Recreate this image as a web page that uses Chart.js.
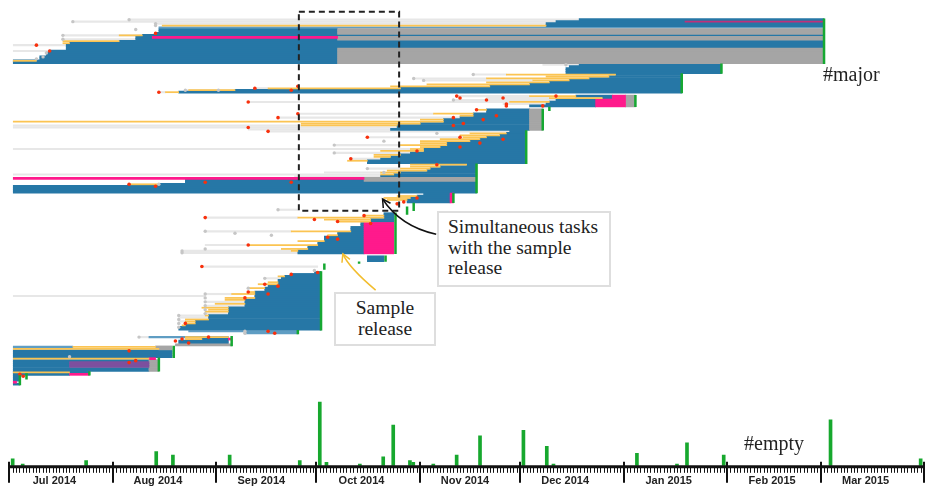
<!DOCTYPE html>
<html>
<head>
<meta charset="utf-8">
<script src="https://cdn.jsdelivr.net/npm/chart.js@4.4.1/dist/chart.umd.min.js"></script>
<style>
  body { margin: 0; background: #fff; }
  #wrap { position: relative; width: 925px; height: 489px; overflow: hidden; }
  canvas { position: absolute; left: 0; }
  .tag { position: absolute; font-family: 'Liberation Serif', serif; font-size: 20px; line-height: 24px; color: #222; }
  .note { position: absolute; box-sizing: border-box; border: 2px solid #dedede; background: #fff;
          font-family: 'Liberation Serif', serif; font-size: 19.5px; line-height: 20.5px; color: #222; }
</style>
</head>
<body>
<div id="wrap">
  <canvas id="tasks" width="925" height="395" style="top:0"></canvas>
  <canvas id="empty" width="925" height="94" style="top:395px"></canvas>
  <div class="tag" style="left:823px;top:62px">#major</div>
  <div class="tag" style="left:744px;top:431px">#empty</div>
  <div class="note" style="left:437px;top:211px;width:174px;height:76px;padding:4px 0 0 9px">Simultaneous tasks<br>with the sample<br>release</div>
  <div class="note" style="left:334px;top:292px;width:102px;height:54px;padding-top:4px;text-align:center">Sample<br>release</div>
</div>
<script>
// days are counted from 1 Jul 2014, rows are task numbers (top to bottom)
const monthStarts = [0, 31, 62, 92, 123, 153, 184, 215, 243, 274];
const monthLabels = ['Jul 2014', 'Aug 2014', 'Sep 2014', 'Oct 2014', 'Nov 2014', 'Dec 2014', 'Jan 2015', 'Feb 2015', 'Mar 2015'];

// [row, from, to]
const waitSpans = [
  [8,35,171],[9,18,164],[10,43,161],[16,15,39],[18,15,37],[21,0,16],[24,0,11],
  [31,160,171],[36,139,149],[38,121,143],[39,124,157],[43,73,77],[45,44,46],[44,52,67],
  [47,134,156],[48,143,162],[49,133,164],[51,148,161],[50,71,150],
  [56,86,127],[58,80,135],[62,0,87],[63,0,116],[64,71,114],
  [65,77,150],[68,107,136],[72,97,117],[74,0,120],[76,97,120],[79,102,111],
  [84,107,117],[86,94,111],[87,0,111],[88,85,111],
  [105,80,86],[109,58,86],[116,58,84],[123,58,71],[126,51,84],[127,51,86],
  [134,57,92],[140,76,81],[148,58,66],[149,0,58],[152,58,70],[154,58,70],[158,58,65],
  [159,50,58],[160,50,59],[162,50,52],[170,38,41]
];

const workSpans = [
  [8,171,245],[9,164,245],[10,161,245],[11,161,245],[13,44,98],[14,44,98],[15,43,98],[16,39,245],
  [17,37,42],[18,37,98],[19,32,245],[20,17,245],[21,16,245],[22,16,245],[23,16,98],[24,11,98],
  [25,10,98],[26,10,98],[27,8,98],[28,8,98],[29,0,98],[30,0,98],
  [31,171,214],[32,168,214],[33,167,214],[34,167,214],[35,167,214],
  [36,182,202],[37,180,202],[38,174,202],[39,168,202],[40,162,202],[41,156,202],[42,144,202],
  [43,117,202],[44,67,202],[45,50,202],
  [47,170,181],[48,178,181],[49,164,176],[50,162,176],[51,161,176],[52,156,176],
  [54,143,156],[55,143,156],[56,139,156],[57,139,156],[58,135,156],[59,130,156],[60,130,156],
  [61,123,156],[62,116,156],[63,116,156],[64,114,156],
  [65,150,155],[66,149,155],[67,147,155],[68,143,155],[69,141,155],[70,138,155],[71,131,155],
  [72,131,155],[73,129,155],[74,124,155],[75,124,155],[76,120,155],[77,117,155],[78,114,155],
  [79,111,155],[80,107,155],[81,107,155],
  [82,137,140],[83,129,140],[84,126,140],[85,125,140],[86,117,140],[87,115,140],[88,111,140],
  [90,52,106],[91,52,140],[92,44,140],[93,0,140],[94,0,140],[95,0,140],[96,0,140],
  [97,124,132],[98,122,132],[99,120,132],[100,119,132],[101,119,132],
  [107,112,115],[108,112,115],[109,112,115],[110,108,115],[111,108,115],[112,105,106],[113,105,106],
  [114,102,106],[115,102,106],[116,102,106],[117,98,106],[118,98,106],[119,94,106],[120,94,106],
  [121,94,106],[122,92,106],[123,92,106],[124,89,106],[125,89,106],[126,86,106],[127,86,106],
  [129,107,112],[130,107,112],[131,107,112],
  [137,91,93],[138,84,93],[139,82,93],[140,81,93],[141,80,93],[142,80,93],[143,80,93],[144,77,93],
  [145,76,93],[146,76,93],[147,73,93],[148,73,93],[149,73,93],[150,73,93],[151,70,93],[152,70,93],
  [153,70,93],[154,70,93],[155,65,93],[156,65,93],[157,65,93],[158,65,93],[159,59,93],[160,59,93],
  [161,59,93],[162,55,93],[163,55,93],[164,52,93],[165,50,93],[166,50,93],
  [171,57,65],[172,50,65],[173,50,65],
  [177,0,48],[178,0,48],[179,0,48],[180,0,48],
  [182,0,41],[183,0,17],[184,0,17],[185,0,17],[186,0,41],[187,0,41],
  [188,0,23],[189,0,17],
  [190,0,2],[191,0,2],[192,0,2],[194,0,2]
];

const lightWorkSpans = [[12,44,245],[167,53,86],[168,70,86],[170,41,65],[175,0,18]];

const holdSpans = [
  [13,98,245],[14,98,245],[15,98,245],[17,98,245],[18,98,245],[23,98,245],[24,98,245],
  [25,98,245],[26,98,245],[27,98,245],[28,98,245],[29,98,245],[30,98,245],
  [47,185,188],[48,185,188],[49,185,188],[50,185,188],[51,185,188],[52,185,188],
  [54,156,160],[55,156,160],[56,156,160],[57,156,160],[58,156,160],[59,156,160],[60,156,160],
  [61,156,160],[62,156,160],[63,156,160],[64,156,160],
  [89,106,140],[90,106,140],[174,49,66],[175,43,48],[176,44,48],
  [182,41,44],[183,41,44],[184,41,44],[185,41,44],[186,41,44],[187,41,44]
];

const blockSpans = [
  [17,42,98],[47,181,185],[48,181,185],[49,176,185],[50,176,185],[51,176,185],[52,176,185],
  [89,0,106],[97,132,133],[98,132,133],[99,132,133],[100,132,133],[101,132,133],
  [112,106,115],[113,106,115],[114,106,115],[115,106,115],[116,106,115],[117,106,115],
  [118,106,115],[119,106,115],[120,106,115],[121,106,115],[122,106,115],[123,106,115],
  [124,106,115],[125,106,115],[126,106,115],[127,106,115],
  [171,65,66],[181,41,43],[189,17,23],[193,0,1]
];

const mixedSpans = [[183,17,41],[184,17,41],[185,17,41]];
const flagSpans = [[9,203,245]];

const readySpans = [
  [11,45,161],[16,32,39],[19,15,32],[20,15,17],[29,0,7],
  [36,149,182],[37,161,180],[38,143,174],[39,157,168],[40,143,162],[41,125,156],[42,114,144],
  [43,77,117],[44,53,67],[45,46,50],
  [47,156,170],[48,162,178],[50,150,162],
  [54,140,143],[56,127,139],[57,135,139],[59,123,130],[60,0,130],[61,87,123],[62,87,116],
  [66,138,149],[67,135,147],[68,136,143],[69,129,141],[70,123,138],[71,123,131],[72,117,131],
  [73,123,129],[74,120,124],[75,111,124],[77,109,117],[78,109,114],[80,101,107],
  [82,120,137],[83,120,129],[84,117,126],[85,113,125],[86,111,117],[87,111,115],[92,35,44],
  [98,116,122],[99,112,120],[100,113,119],
  [108,106,112],[109,86,112],[110,94,108],[111,98,108],[116,84,102],[118,95,98],[121,86,94],
  [123,71,92],[125,81,89],[126,84,86],
  [139,80,82],[142,77,80],[143,74,80],[145,71,76],[147,71,73],[148,66,73],[150,64,73],[151,64,70],
  [153,61,70],[155,57,65],[156,59,65],[157,58,65],[159,58,59],[161,52,59],[162,52,55],[163,52,55],
  [164,51,52],
  [170,52,65],[171,52,57],[175,18,43],[176,0,44],[181,0,41],[188,0,17]
];

// [row, day]
const redDots = [
  [15,43],[21,7],[24,11],[43,73],[42,86],[44,84],[45,44],
  [47,134],[48,135],[49,143],[48,148],[51,149],[52,149],[47,164],[52,160],
  [50,71],[56,86],[58,80],[63,71],[54,140],[57,146],[58,133],[59,142],[62,133],[61,136],
  [65,77],[68,135],[69,148],[71,141],[73,135],[75,122],[79,102],[68,107],
  [82,128],[92,35],[93,43],[91,58],[91,84],[101,118],[102,116],[99,122],
  [108,106],[109,58],[110,91],[111,98],[119,95],[120,98],[123,71],[112,108],
  [134,57],[138,84],[137,92],[143,76],[147,71],[148,77],[150,70],[163,52],[144,80],
  [167,77],[168,79],[170,59],[172,49],[171,51],[173,53],[177,35],[182,37],[183,35],[189,2],[190,3]
];

const grayDots = [
  [8,35],[9,18],[10,43],[11,43],[13,37],[16,15],[18,15],[25,10],[27,9],[28,7],
  [31,167],[36,139],[38,121],[44,52],[44,62],[39,124],[49,133],[72,97],[76,97],[70,112],[66,128],
  [84,107],[86,112],[92,44],[105,80],[116,58],[126,51],[127,51],[125,58],[117,67],[118,78],
  [140,76],[145,71],[148,58],[150,58],[152,58],[154,58],[156,58],[158,58],[159,50],[161,50],
  [163,50],[165,50],[136,91],[167,70],[168,70],[170,38],[180,17]
];

// [day, first row, last row]
const releases = [
  [245,8,30],[214,31,35],[202,36,45],[188,47,52],[162,53,54],[160,54,64],[155,65,81],[140,82,96],
  [133,97,101],[119,104,107],[121,102,105],[115.5,107,127],[112.5,129,131],[104.5,132,132],
  [94,133,135],[93,137,166],[86,167,168],[66,170,174],[48.5,175,180],[44,181,187],[23,188,189],
  [2,190,194],[4,189,191]
];

const emptyDays = [1,4,23,44,49,66,87,93,95,105,112,115,120,121,127,134,141,154,161,163,188,200,203,214,246,273];
const emptyCounts = [4,1,3,8,6,6,3,36,2,1,5,23,3,2,1,6,17,20,11,1,7,1,13,6,26,4];

const DAY_MIN = -2.8, DAY_MAX = 274.3;

const toBars = spans => spans.map(([row, from, to]) => ({ x: [from, to], y: row }));
const toDots = pts => pts.map(([row, day]) => ({ x: day, y: row }));

function spanSet(spans, color, thickness, order) {
  return {
    type: 'bar', indexAxis: 'y', grouped: false, order,
    data: toBars(spans), backgroundColor: color, barThickness: thickness, borderWidth: 0,
  };
}

const notes = {
  id: 'notes',
  afterDraw(chart) {
    const { ctx, scales: { x, y } } = chart;
    const px = d => x.getPixelForValue(d);
    const py = r => y.getPixelForValue(r);
    ctx.save();
    // focus frame round the sample release period
    ctx.setLineDash([6, 4]);
    ctx.strokeStyle = '#222';
    ctx.lineWidth = 2;
    ctx.strokeRect(px(86.3), py(4), px(116.6) - px(86.3), py(105.5) - py(4));
    ctx.setLineDash([]);
    const arrows = [
      { from: [127.8, 117.5], ctrl: [117, 113.5], to: [111.6, 99.5], color: '#111' },
      { from: [109.5, 146], ctrl: [101.3, 134.3], to: [99.6, 127.5], color: '#f2bd2e' },
    ];
    arrows.forEach(a => {
      const [x0, y0] = [px(a.from[0]), py(a.from[1])];
      const [cx, cy] = [px(a.ctrl[0]), py(a.ctrl[1])];
      const [x1, y1] = [px(a.to[0]), py(a.to[1])];
      ctx.strokeStyle = a.color;
      ctx.lineWidth = 1.5;
      ctx.beginPath();
      ctx.moveTo(x0, y0);
      ctx.quadraticCurveTo(cx, cy, x1, y1);
      ctx.stroke();
      const ang = Math.atan2(y1 - cy, x1 - cx);
      ctx.beginPath();
      ctx.moveTo(x1 - 9 * Math.cos(ang - 0.5), y1 - 9 * Math.sin(ang - 0.5));
      ctx.lineTo(x1, y1);
      ctx.lineTo(x1 - 9 * Math.cos(ang + 0.5), y1 - 9 * Math.sin(ang + 0.5));
      ctx.stroke();
    });
    ctx.restore();
  }
};

new Chart(document.getElementById('tasks'), {
  type: 'bar',
  data: {
    datasets: [
      ...releases.map(([day, r1, r2]) => ({
        type: 'line', order: 0, data: [{ x: day, y: r1 - 0.6 }, { x: day, y: r2 + 0.6 }],
        borderColor: '#16a832', borderWidth: 2.5, pointRadius: 0,
      })),
      { type: 'scatter', order: 1, data: toDots(redDots), pointRadius: 1.8,
        pointBackgroundColor: '#f8300c', pointBorderWidth: 0 },
      { type: 'scatter', order: 2, data: toDots(grayDots), pointRadius: 1.7,
        pointBackgroundColor: '#c6c6c6', pointBorderWidth: 0 },
      spanSet(flagSpans, '#c0307a', 1, 3),
      spanSet(readySpans, '#fbc452', 1.1, 4),
      spanSet(blockSpans, '#ff1a8c', 2, 5),
      spanSet(mixedSpans, '#7d4f9e', 2, 5),
      spanSet(holdSpans, '#a5a5a5', 2, 6),
      spanSet(workSpans, '#2677a6', 2, 6),
      spanSet(lightWorkSpans, '#5f9dc3', 1.5, 6),
      spanSet(waitSpans, '#e7e7e7', 1.5, 7),
    ],
  },
  options: {
    responsive: false,
    animation: false,
    events: [],
    layout: { padding: 0 },
    plugins: { legend: { display: false }, tooltip: { enabled: false } },
    scales: {
      x: { type: 'linear', display: false, min: DAY_MIN, max: DAY_MAX, offset: false },
      y: { type: 'linear', display: false, reverse: true, min: 0, max: 197.5, offset: false },
    },
  },
  plugins: [notes],
});

// heavy time axis with a tick per day and a longer one per month
const timeAxis = {
  id: 'timeAxis',
  afterDraw(chart) {
    const { ctx, scales: { x }, chartArea } = chart;
    const y0 = chartArea.bottom + 1;
    ctx.save();
    ctx.strokeStyle = '#111';
    ctx.lineWidth = 1;
    ctx.beginPath();
    for (let d = 0; d <= 274; d++) {
      const p = Math.round(x.getPixelForValue(d)) + 0.5;
      ctx.moveTo(p, y0 + 1);
      ctx.lineTo(p, y0 + 6);
    }
    ctx.stroke();
    ctx.lineWidth = 3;
    ctx.beginPath();
    ctx.moveTo(x.getPixelForValue(0), y0);
    ctx.lineTo(x.getPixelForValue(274), y0);
    ctx.stroke();
    ctx.lineWidth = 2;
    ctx.beginPath();
    monthStarts.forEach(d => {
      const p = Math.round(x.getPixelForValue(d));
      ctx.moveTo(p, y0 - 5);
      ctx.lineTo(p, y0 + 16);
    });
    ctx.stroke();
    ctx.restore();
  }
};

new Chart(document.getElementById('empty'), {
  type: 'bar',
  data: {
    datasets: [{
      data: emptyDays.map((d, i) => ({ x: d, y: emptyCounts[i] })),
      backgroundColor: '#17a82e',
      barThickness: 3,
    }],
  },
  options: {
    responsive: false,
    animation: false,
    events: [],
    layout: { padding: { left: 0, right: 0, top: 0, bottom: 1 } },
    plugins: { legend: { display: false }, tooltip: { enabled: false } },
    scales: {
      x: {
        type: 'linear', min: DAY_MIN, max: DAY_MAX, offset: false,
        afterBuildTicks: scale => {
          scale.ticks = monthLabels.map((_, i) => ({ value: monthStarts[i] + 13.5 }));
        },
        grid: { display: true, drawOnChartArea: false, offset: false, tickLength: 9, tickColor: 'rgba(0,0,0,0)' },
        border: { display: false },
        ticks: {
          autoSkip: false, maxRotation: 0, padding: 0, color: '#222',
          font: { family: "'Liberation Sans', Arial, sans-serif", size: 11, weight: 'bold' },
          callback: (v, i) => monthLabels[i],
        },
      },
      y: { display: false, min: 0, max: 40 },
    },
  },
  plugins: [timeAxis],
});
</script>
</body>
</html>
